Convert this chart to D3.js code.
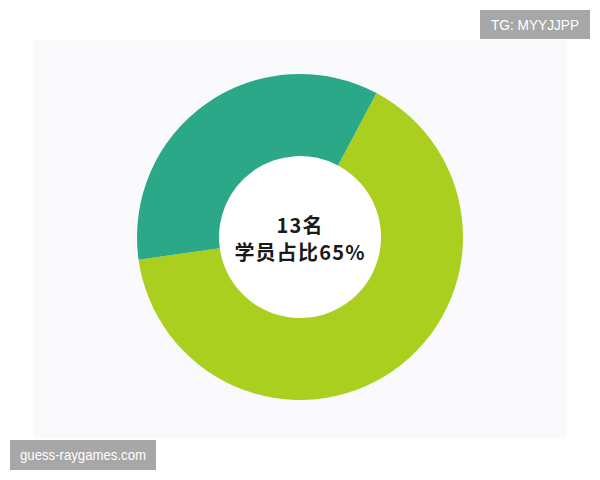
<!DOCTYPE html>
<html>
<head>
<meta charset="utf-8">
<script src="https://cdn.jsdelivr.net/npm/d3@7.9.0/dist/d3.min.js"></script>
<style>
  html, body { margin: 0; padding: 0; background: #fff; }
  svg { display: block; }
</style>
</head>
<body>
<div id="chart"></div>
<script>
// slice data
const categories = ['学员', '其他'];
const values = [65, 35];
const colors = ['#abcf1f', '#2ba887'];
const centerLines = ['13名', '学员占比65%'];
const watermarks = ['TG: MYYJJPP', 'guess-raygames.com'];

const width = 600, height = 480;
const cx = 300, cy = 237;
const outerR = 163, innerR = 81;

const svg = d3.select('#chart').append('svg')
  .attr('width', width).attr('height', height);

// light panel behind the donut
svg.append('rect')
  .attr('x', 33).attr('y', 40)
  .attr('width', 534).attr('height', 399)
  .attr('fill', '#fafafc');

const pie = d3.pie().sort(null)
  .startAngle(28 * Math.PI / 180)
  .endAngle(388 * Math.PI / 180);
const arc = d3.arc().innerRadius(innerR).outerRadius(outerR);

const g = svg.append('g').attr('transform', `translate(${cx},${cy})`);

g.append('circle').attr('r', innerR).attr('fill', '#fff');

g.selectAll('path')
  .data(pie(values))
  .join('path')
  .attr('d', arc)
  .attr('fill', (d, i) => colors[i]);

g.selectAll('text.center')
  .data(centerLines)
  .join('text')
  .attr('class', 'center')
  .attr('x', 0)
  .attr('y', (d, i) => i === 0 ? -4 : 23)
  .attr('text-anchor', 'middle')
  .attr('font-family', '"Noto Sans CJK SC", "Noto Sans", sans-serif')
  .attr('font-weight', 'bold')
  .attr('font-size', 20)
  .attr('letter-spacing', 1.2)
  .attr('fill', '#1a1a1a')
  .text(d => d);

// watermark tags
const tags = [
  { x: 480, y: 10, w: 110, h: 29, tw: 88 },
  { x: 10, y: 440, w: 146, h: 30, tw: 126 },
];
tags.forEach((t, i) => {
  svg.append('rect')
    .attr('x', t.x).attr('y', t.y)
    .attr('width', t.w).attr('height', t.h)
    .attr('fill', '#a7a7a7');
  svg.append('text')
    .attr('x', t.x + t.w / 2)
    .attr('y', t.y + t.h / 2 + 5)
    .attr('text-anchor', 'middle')
    .attr('font-family', '"Liberation Sans", Arial, sans-serif')
    .attr('font-size', 14)
    .attr('textLength', t.tw)
    .attr('lengthAdjust', 'spacingAndGlyphs')
    .attr('fill', '#fff')
    .text(watermarks[i]);
});
</script>
</body>
</html>
